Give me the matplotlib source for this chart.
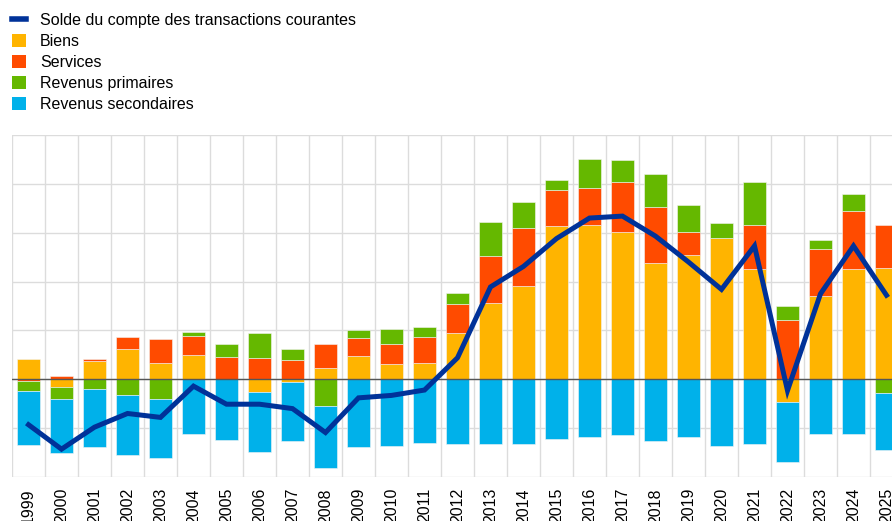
import matplotlib.pyplot as plt
import numpy as np
from matplotlib.lines import Line2D
from matplotlib.patches import Patch

plt.rcParams['font.family'] = ['Liberation Sans', 'DejaVu Sans']

annees = [str(a) for a in range(1999, 2026)]

biens = [0.41, -0.16, 0.38, 0.61, 0.33, 0.49, 0.00, -0.25, -0.05, 0.23,
         0.47, 0.31, 0.34, 0.95, 1.56, 1.90, 3.13, 3.15, 3.01, 2.38,
         2.54, 2.90, 2.26, -0.46, 1.71, 2.25, 2.27]
services = [-0.03, 0.06, 0.03, 0.25, 0.50, 0.40, 0.46, 0.44, 0.40, 0.50,
            0.38, 0.42, 0.52, 0.59, 0.96, 1.19, 0.74, 0.77, 1.03, 1.15,
            0.48, 0.00, 0.90, 1.22, 0.96, 1.20, 0.89]
revenus_primaires = [-0.21, -0.25, -0.20, -0.33, -0.40, 0.07, 0.26, 0.51, 0.23, -0.54,
                     0.16, 0.29, 0.20, 0.22, 0.70, 0.53, 0.20, 0.58, 0.44, 0.67,
                     0.55, 0.29, 0.87, 0.27, 0.19, 0.35, -0.29]
revenus_secondaires = [-1.11, -1.09, -1.19, -1.22, -1.22, -1.13, -1.24, -1.23, -1.22, -1.28,
                       -1.39, -1.37, -1.30, -1.32, -1.32, -1.32, -1.23, -1.19, -1.15, -1.26,
                       -1.19, -1.37, -1.32, -1.24, -1.13, -1.11, -1.15]
solde = [-0.93, -1.43, -0.98, -0.70, -0.78, -0.14, -0.51, -0.51, -0.60, -1.09,
         -0.38, -0.33, -0.22, 0.44, 1.89, 2.31, 2.88, 3.30, 3.34, 2.93,
         2.40, 1.84, 2.73, -0.23, 1.75, 2.73, 1.72]

composantes = [
    ("Biens", biens, "#ffb400"),
    ("Services", services, "#ff4b00"),
    ("Revenus primaires", revenus_primaires, "#65b800"),
    ("Revenus secondaires", revenus_secondaires, "#00b1ea"),
]
couleur_solde = "#003299"

fig = plt.figure(figsize=(8.92, 5.21), dpi=100)
ax = fig.add_axes([12 / 892, 44 / 521, 891 / 892, 342 / 521])

x = np.arange(len(annees))
pos = np.zeros(len(annees))
neg = np.zeros(len(annees))
for nom, vals, coul in composantes:
    vals = np.array(vals)
    base = np.where(vals >= 0, pos, neg)
    ax.bar(x, vals, bottom=base, width=0.68, color=coul,
           edgecolor="#f4f4f4", linewidth=0.4, zorder=2)
    pos += np.clip(vals, 0, None)
    neg += np.clip(vals, None, 0)

ax.axhline(0, color="#555555", lw=1.0, zorder=3)
ax.plot(x, solde, color=couleur_solde, lw=3.6, zorder=4,
        solid_joinstyle="miter")

ax.set_xlim(-0.5, len(annees) - 0.5)
ax.set_ylim(-2, 5)
ax.set_yticks(np.arange(-2, 6))
ax.set_yticklabels([])
ax.set_xticks(x)
ax.set_xticklabels(annees, rotation=90, fontsize=11.5, va="top")
ax.set_xticks(np.arange(-0.5, len(annees)), minor=True)
ax.tick_params(axis="both", which="both", length=0, pad=8)
ax.grid(True, which="major", axis="y", color="#dcdcdc", lw=1.0, zorder=0)
ax.grid(True, which="minor", axis="x", color="#dcdcdc", lw=1.0, zorder=0)
for s in ax.spines.values():
    s.set_visible(False)

# légende
poignees = [Line2D([0], [0], color=couleur_solde, lw=4)] + \
    [Patch(facecolor=c) for _, _, c in composantes]
libelles = ["Solde du compte des transactions courantes"] + \
    [n for n, _, _ in composantes]
fig.legend(poignees, libelles, loc="upper left",
           bbox_to_anchor=(12 / 892, 1 - 13 / 521), frameon=False,
           fontsize=11.5, handlelength=0.9, handleheight=0.9,
           handletextpad=0.85, labelspacing=0.36, borderpad=0,
           borderaxespad=0)

fig.savefig("out.png", dpi=100)
